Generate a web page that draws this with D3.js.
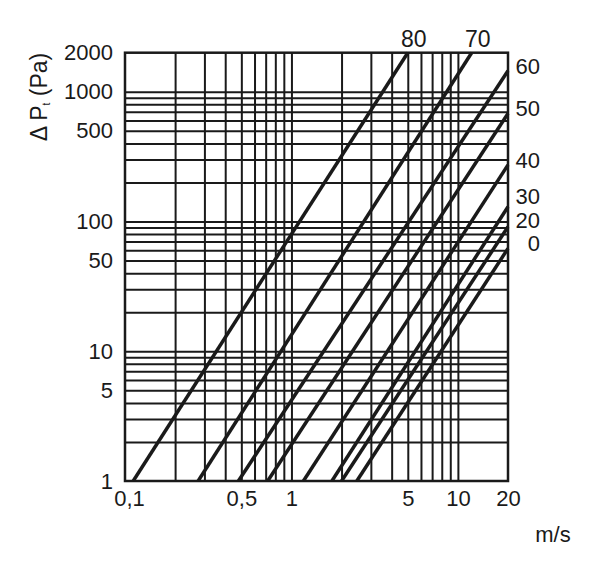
<!DOCTYPE html>
<html>
<head>
<meta charset="utf-8">
<script src="https://cdn.jsdelivr.net/npm/d3@7"></script>
<style>
  body { margin: 0; background: #fff; }
  text { font-family: "Liberation Sans", Arial, sans-serif; fill: #1a1a1a; }
</style>
</head>
<body>
<svg width="610" height="578"></svg>
<script>
// pressure loss lines, straight on log-log axes: start at the bottom, end at top or right edge
let lineNames = ["80", "70", "60", "50", "40", "30", "20", "0"];
let startSpeed = [0.112, 0.275, 0.48, 0.72, 1.18, 1.75, 2.0, 2.47];   // m/s at 1 Pa
let endSpeed = [5, 12.1, 20, 20, 20, 20, 20, 20];
let endPressure = [2000, 2000, 1450, 680, 273, 130, 91, 62];

let xGrid = [0.2, 0.3, 0.4, 0.5, 0.6, 0.7, 0.8, 0.9, 1, 2, 3, 4, 5, 6, 7, 8, 9, 10];
let yGrid = [2, 3, 4, 5, 6, 7, 8, 9, 10, 20, 30, 40, 50, 60, 70, 80, 90,
  100, 200, 300, 400, 500, 600, 700, 800, 900, 1000];
let xTicks = [0.1, 0.5, 1, 5, 10, 20];
let xTickLabels = ["0,1", "0,5", "1", "5", "10", "20"];
let yTicks = [1, 5, 10, 50, 100, 500, 1000, 2000];

let plot = { left: 125, right: 508, top: 52.7, bottom: 481 };
let ink = "#1a1a1a";

let svg = d3.select("svg");
let x = d3.scaleLog().domain([0.1, 20]).range([plot.left, plot.right]);
let y = d3.scaleLog().domain([1, 2000]).range([plot.bottom, plot.top]);

// grid
svg.append("g")
  .attr("transform", `translate(0,${plot.bottom})`)
  .call(d3.axisBottom(x).tickValues(xGrid).tickSize(-(plot.bottom - plot.top)).tickFormat(""))
  .call(g => g.select(".domain").remove())
  .call(g => g.selectAll("line").attr("stroke", ink).attr("stroke-width", 2));

svg.append("g")
  .attr("transform", `translate(${plot.left},0)`)
  .call(d3.axisLeft(y).tickValues(yGrid).tickSize(-(plot.right - plot.left)).tickFormat(""))
  .call(g => g.select(".domain").remove())
  .call(g => g.selectAll("line").attr("stroke", ink).attr("stroke-width", 2));

// frame
svg.append("rect")
  .attr("x", plot.left).attr("y", plot.top)
  .attr("width", plot.right - plot.left).attr("height", plot.bottom - plot.top)
  .attr("fill", "none").attr("stroke", ink).attr("stroke-width", 2.5);

// tick labels
svg.append("g")
  .attr("transform", `translate(0,${plot.bottom})`)
  .call(d3.axisBottom(x).tickValues(xTicks).tickSize(0).tickPadding(9)
    .tickFormat((d, i) => xTickLabels[i]))
  .call(g => g.select(".domain").remove())
  .call(g => g.selectAll("text").attr("font-size", 22).attr("fill", ink)
    .attr("font-family", "Liberation Sans, Arial, sans-serif")
    .attr("dx", d => d === 0.1 ? 4 : 0));

svg.append("g")
  .attr("transform", `translate(${plot.left},0)`)
  .call(d3.axisLeft(y).tickValues(yTicks).tickSize(0).tickPadding(12).tickFormat(d3.format("d")))
  .call(g => g.select(".domain").remove())
  .call(g => g.selectAll("text").attr("font-size", 22).attr("fill", ink)
    .attr("font-family", "Liberation Sans, Arial, sans-serif"));

// the lines
let lines = lineNames.map((name, i) => ({
  name,
  p0: [startSpeed[i], 1],
  p1: [endSpeed[i], endPressure[i]]
}));

svg.append("g")
  .selectAll("line")
  .data(lines)
  .join("line")
  .attr("x1", d => x(d.p0[0])).attr("y1", d => y(d.p0[1]))
  .attr("x2", d => x(d.p1[0])).attr("y2", d => y(d.p1[1]))
  .attr("stroke", ink)
  .attr("stroke-width", 3.5)
  .attr("stroke-linecap", "butt");

// line names: on top for the lines that leave through the top, at the right for the rest
let topLines = lines.filter(d => d.p1[1] >= 2000);
let sideLines = lines.filter(d => d.p1[1] < 2000);

svg.append("g")
  .selectAll("text")
  .data(topLines)
  .join("text")
  .attr("x", d => x(d.p1[0]) + 6)
  .attr("y", plot.top - 6)
  .attr("text-anchor", "middle")
  .attr("font-size", 23)
  .text(d => d.name);

// push the side labels apart from the bottom upwards
let labelY = sideLines.map(d => y(d.p1[1]) - 5);
for (let i = labelY.length - 2; i >= 0; i--) {
  labelY[i] = Math.min(labelY[i], labelY[i + 1] - 23.5);
}

svg.append("g")
  .selectAll("text")
  .data(sideLines)
  .join("text")
  .attr("x", plot.right + 32)
  .attr("y", (d, i) => labelY[i])
  .attr("dy", "0.35em")
  .attr("text-anchor", "end")
  .attr("font-size", 22)
  .text(d => d.name);

// axis titles
svg.append("text")
  .attr("x", 553).attr("y", 542)
  .attr("text-anchor", "middle")
  .attr("font-size", 22)
  .text("m/s");

let yTitle = svg.append("text")
  .attr("transform", "translate(47,97) rotate(-90)")
  .attr("text-anchor", "middle")
  .attr("font-size", 23);
yTitle.append("tspan").text("Δ P");
yTitle.append("tspan").attr("font-size", 10).attr("dy", 3).text("t");
yTitle.append("tspan").attr("dy", -3).text(" (Pa)");
</script>
</body>
</html>
